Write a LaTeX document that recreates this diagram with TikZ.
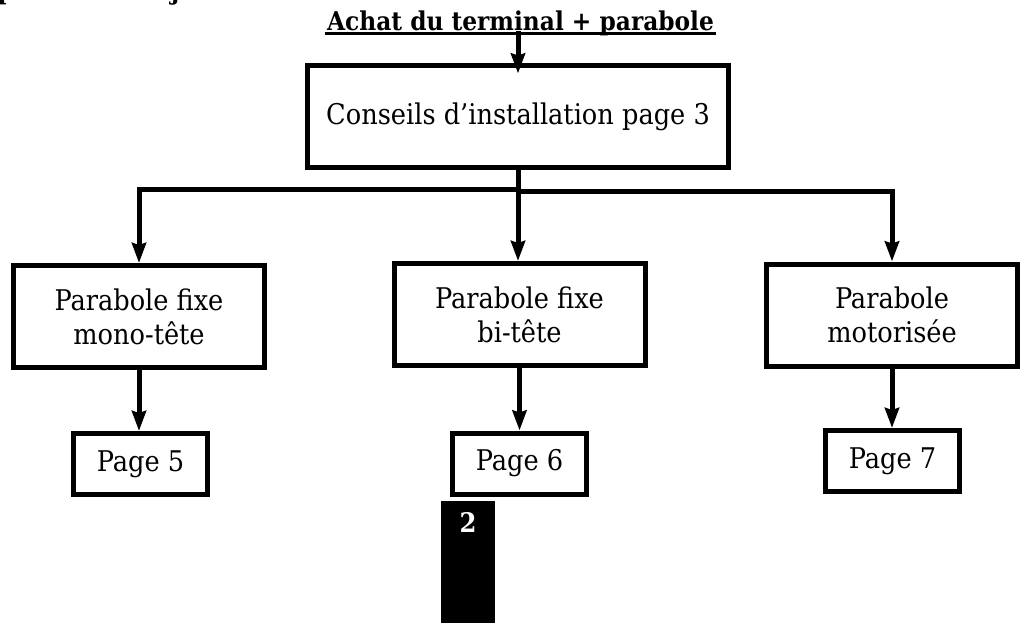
\documentclass[tikz,border=0pt]{standalone}
\usepackage{fontspec}
\setmainfont{DejaVu Serif Condensed}
\usetikzlibrary{arrows.meta}

\begin{document}
\begin{tikzpicture}[x=1pt, y=-1pt, >={Stealth[length=20pt, width=14pt, inset=2pt]}, line width=5pt, shorten >=2.5pt, align=center, font=\fontsize{28.5}{34}\selectfont,
    box/.style={rectangle, draw, outer sep=0pt, inner sep=0pt, minimum width=251pt, minimum height=102pt},
    pagebox/.style={rectangle, draw, outer sep=0pt, inner sep=0pt, minimum width=134pt, minimum height=61pt},
    titre/.style={anchor=base, inner sep=0pt, font=\fontsize{25.9}{34}\selectfont\bfseries}]
    \useasboundingbox (0,0) rectangle (1020,623);

    \node[titre]  (debut)    at (520.5,31)   {Achat du terminal + parabole};
    \node[box, minimum width=421pt]  (conseil)  at (518,116.5)  {Conseils d'installation page 3};
    \node[box]    (fixe1)    at (139,316.5)  {Parabole fixe\\mono-tête};
    \node[box]    (fixe2)    at (519.5,314.5)  {Parabole fixe\\bi-tête};
    \node[box]    (moteur)   at (892,315)  {Parabole\\motorisée};
    \node[pagebox] (page5)   at (140.5,464)  {Page 5};
    \node[pagebox] (page6)   at (519.5,463.5)  {Page 6};
    \node[pagebox] (page7)   at (892.5,461)  {Page 7};

    % bottoms of the cut-off line
    \node[titre] (coupe1) at (6,0) {p};
    \node[titre] (coupe2) at (175,0) {j};

    \coordinate (busg) at (518,189);
    \coordinate (busd) at (518,191);

    \node[fill, draw=none, inner sep=0pt, outer sep=0pt, minimum width=54pt, minimum height=122pt] (bande) at (468,562) {};
    \node[titre, text=white, font=\fontsize{27}{30}\selectfont\bfseries] (numero) at (468,532) {2};

  \draw[line width=2.5pt, shorten >=0pt] ([yshift=-2.5pt]debut.base west) -- ([yshift=-2.5pt]debut.base east);

  \path[->]
        (debut.base -| conseil.north) coordinate (depart)
        (depart) edge [shorten >=-8pt]  (conseil.north)
        (conseil.south) edge            (conseil.south |- fixe2.north)
        (fixe1.south)  edge             (fixe1.south |- page5.north)
        (fixe2.south)  edge             (page6.north)
        (moteur.south) edge             (moteur.south |- page7.north)
        ;
  \draw[->] (busg) -| (fixe1.north);
  \draw[->] (busd) -| (moteur.north);
\end{tikzpicture}
\end{document}
